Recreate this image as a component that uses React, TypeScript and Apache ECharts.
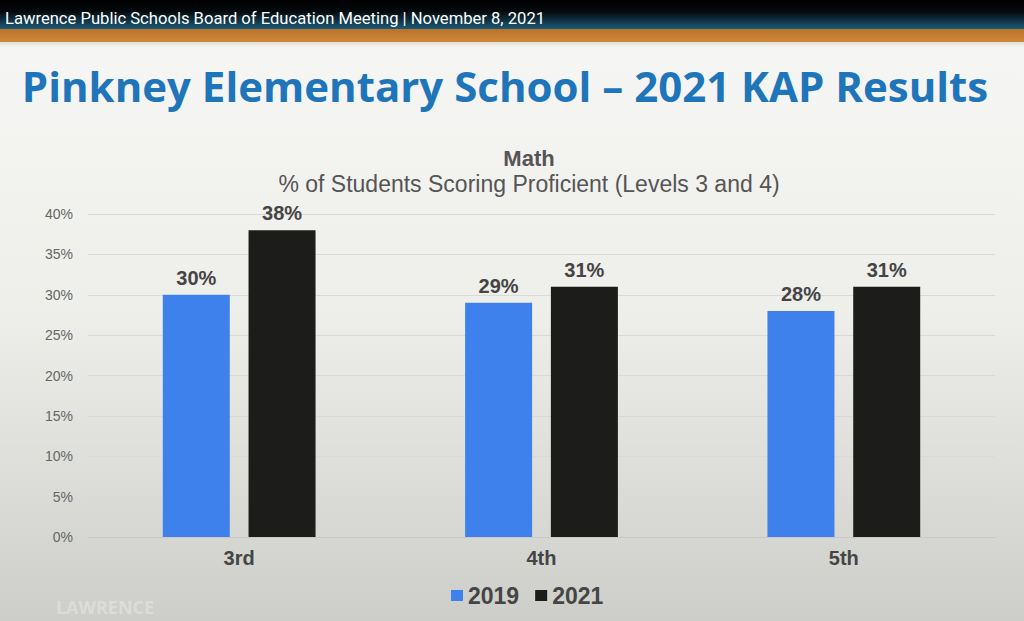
import { useEffect, useRef } from "react";
import * as echarts from "echarts";

const grades = ["3rd", "4th", "5th"];
const scores2019 = [30, 29, 28];
const scores2021 = [38, 31, 31];
const yTicks = [0, 5, 10, 15, 20, 25, 30, 35, 40];

const pct = (v: number) => `${v}%`;
const sans = "Liberation Sans, Arial, sans-serif";

export default function App() {
  const ref = useRef<HTMLDivElement | null>(null);

  useEffect(() => {
    document.body.style.margin = "0";
    if (!ref.current) return;
    const chart = echarts.init(ref.current, undefined, { renderer: "svg" });

    const labelStyle = {
      show: true,
      position: "top" as const,
      distance: 7,
      formatter: (p: any) => pct(p.value),
      color: "#454545",
      fontSize: 20,
      fontWeight: "bold" as const,
      fontFamily: sans,
    };

    chart.setOption({
      animation: false,
      backgroundColor: {
        type: "linear",
        x: 0,
        y: 0,
        x2: 0,
        y2: 1,
        colorStops: [
          { offset: 0, color: "#f7f7f5" },
          { offset: 0.5, color: "#eeeeeb" },
          { offset: 1, color: "#cdcec9" },
        ],
      },
      graphic: [
        {
          type: "rect",
          shape: { x: 0, y: 0, width: 1024, height: 29 },
          style: {
            fill: {
              type: "linear",
              x: 0,
              y: 0,
              x2: 0,
              y2: 1,
              colorStops: [
                { offset: 0, color: "#000000" },
                { offset: 0.4, color: "#050a0d" },
                { offset: 1, color: "#1a5a78" },
              ],
            },
          },
        },
        {
          type: "rect",
          shape: { x: 0, y: 29, width: 1024, height: 13 },
          style: {
            fill: {
              type: "linear",
              x: 0,
              y: 0,
              x2: 0,
              y2: 1,
              colorStops: [
                { offset: 0, color: "#b8722a" },
                { offset: 1, color: "#d08838" },
              ],
            },
          },
        },
        {
          type: "rect",
          shape: { x: 0, y: 42, width: 1024, height: 8 },
          style: {
            fill: {
              type: "linear",
              x: 0,
              y: 0,
              x2: 0,
              y2: 1,
              colorStops: [
                { offset: 0, color: "#dcdcd8" },
                { offset: 1, color: "rgba(247,247,245,0)" },
              ],
            },
          },
        },
        {
          type: "text",
          x: 5,
          y: 18,
          style: {
            text: "Lawrence Public Schools Board of Education Meeting | November 8, 2021",
            fill: "#ffffff",
            fontSize: 16.6,
            fontFamily: "Roboto, sans-serif",
            verticalAlign: "middle",
          },
        },
        {
          type: "text",
          x: 505,
          y: 85,
          style: {
            text: "Pinkney Elementary School – 2021 KAP Results",
            fill: "#1f75b9",
            fontSize: 42,
            fontWeight: "bold",
            fontFamily: "Open Sans, sans-serif",
            align: "center",
            verticalAlign: "middle",
          },
        },
        {
          type: "text",
          x: 105,
          y: 607,
          style: {
            text: "LAWRENCE",
            fill: "rgba(255,255,255,0.3)",
            fontSize: 18,
            fontWeight: "bold",
            fontFamily: "Open Sans, sans-serif",
            align: "center",
            verticalAlign: "middle",
          },
        },
      ],
      title: {
        text: "Math",
        subtext: "% of Students Scoring Proficient (Levels 3 and 4)",
        left: 524,
        top: 142,
        textAlign: "center",
        itemGap: 3,
        textStyle: {
          color: "#555555",
          fontSize: 22,
          fontWeight: "bold",
          fontFamily: sans,
        },
        subtextStyle: {
          color: "#555555",
          fontSize: 23,
          fontFamily: sans,
        },
      },
      legend: {
        top: 584,
        left: 451,
        padding: 0,
        itemWidth: 12,
        itemHeight: 11,
        itemGap: 16,
        icon: "rect",
        textStyle: {
          color: "#454545",
          fontSize: 23,
          fontWeight: "bold",
          fontFamily: sans,
        },
        data: ["2019", "2021"],
      },
      grid: { left: 88, right: 29, top: 214, bottom: 84 },
      xAxis: {
        type: "category",
        data: grades,
        axisTick: { show: false },
        axisLine: { lineStyle: { color: "#c8c8c6", width: 1 } },
        axisLabel: {
          color: "#454545",
          fontSize: 20,
          fontWeight: "bold",
          fontFamily: sans,
          margin: 11,
        },
      },
      yAxis: {
        type: "value",
        min: yTicks[0],
        max: yTicks[yTicks.length - 1],
        interval: 5,
        axisLine: { show: false },
        axisTick: { show: false },
        splitLine: { lineStyle: { color: "#d9d9d7", width: 1 } },
        axisLabel: {
          formatter: (v: number) => pct(v),
          color: "#666666",
          fontSize: 14,
          fontFamily: sans,
          margin: 15,
        },
      },
      series: [
        {
          name: "2019",
          type: "bar",
          data: scores2019,
          barWidth: 67,
          barGap: "28%",
          itemStyle: { color: "#3f81ec" },
          label: labelStyle,
        },
        {
          name: "2021",
          type: "bar",
          data: scores2021,
          barWidth: 67,
          itemStyle: { color: "#1c1c1a" },
          label: labelStyle,
        },
      ],
    });

    return () => chart.dispose();
  }, []);

  return <div ref={ref} style={{ width: 1024, height: 621 }} />;
}
